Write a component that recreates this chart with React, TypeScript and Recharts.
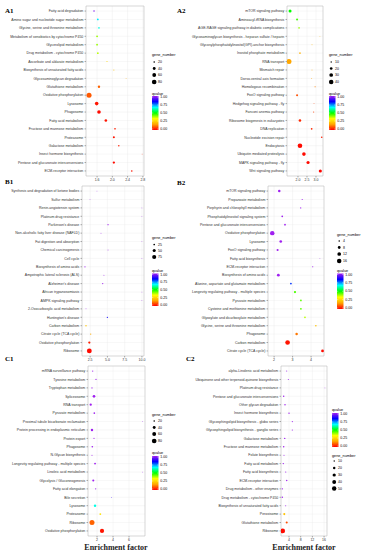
import React from 'react';
import { ScatterChart, Scatter, XAxis, YAxis, CartesianGrid, ReferenceArea } from 'recharts';

// ---------------- DATA ----------------
const A1_categories = [
  'Fatty acid degradation', 'Amino sugar and nucleotide sugar metabolism', 'Glycine, serine and threonine metabolism',
  'Metabolism of xenobiotics by cytochrome P450', 'Glycerolipid metabolism', 'Drug metabolism - cytochrome P450',
  'Ascorbate and aldarate metabolism', 'Biosynthesis of unsaturated fatty acids', 'Glycosaminoglycan degradation',
  'Glutathione metabolism', 'Oxidative phosphorylation', 'Lysosome', 'Phagosome', 'Fatty acid metabolism',
  'Fructose and mannose metabolism', 'Proteasome', 'Galactose metabolism', 'Insect hormone biosynthesis',
  'Pentose and glucuronate interconversions', 'ECM-receptor interaction',
];
const A1_enrichment = [1.52, 1.62, 1.65, 1.6, 1.6, 1.62, 1.86, 2.04, 2.36, 1.65, 1.39, 1.59, 1.65, 1.83, 2.07, 2.04, 2.17, 2.78, 2.04, 2.51];
const A1_genes = [18, 23, 20, 23, 23, 22, 13, 13, 11, 32, 90, 55, 55, 36, 20, 26, 18, 10, 30, 20];
const A1_qvalue = [0.97, 0.68, 0.65, 0.4, 0.4, 0.38, 0.26, 0.22, 0.18, 0.1, 0.09, 0.02, 0.01, 0.02, 0.03, 0.02, 0.03, 0.04, 0.01, 0.02];
const A1_xTicks = [1.6, 2.0, 2.4, 2.8];
const A1_geneLegend = [20, 40, 60, 80];

const A2_categories = [
  'mTOR signaling pathway', 'Aminoacyl-tRNA biosynthesis', 'AGE-RAGE signaling pathway in diabetic complications',
  'Glycosaminoglycan biosynthesis - heparan sulfate / heparin', 'Glycosylphosphatidylinositol(GPI)-anchor biosynthesis',
  'Inositol phosphate metabolism', 'RNA transport', 'Mismatch repair', 'Dorso-ventral axis formation',
  'Homologous recombination', 'FoxO signaling pathway', 'Hedgehog signaling pathway - fly', 'Fanconi anemia pathway',
  'Ribosome biogenesis in eukaryotes', 'DNA replication', 'Nucleotide excision repair', 'Endocytosis',
  'Ubiquitin mediated proteolysis', 'MAPK signaling pathway - fly', 'Wnt signaling pathway',
];
const A2_enrichment = [1.56, 1.95, 2.06, 3.22, 2.78, 2.11, 1.5, 2.78, 2.76, 2.95, 1.95, 2.89, 2.87, 2.11, 2.76, 3.32, 2.11, 2.33, 2.56, 3.24];
const A2_genes = [23, 14, 11, 6, 7, 11, 46, 7, 7, 8, 14, 7, 8, 19, 12, 11, 41, 29, 24, 24];
const A2_qvalue = [0.5, 0.46, 0.4, 0.2, 0.2, 0.19, 0.17, 0.17, 0.16, 0.13, 0.08, 0.06, 0.06, 0.04, 0.04, 0.03, 0.01, 0.01, 0.01, 0.005];
const A2_xTicks = [2.0, 2.5, 3.0];
const A2_geneLegend = [10, 20, 30, 40];

const B1_categories = [
  'Synthesis and degradation of ketone bodies', 'Sulfur metabolism', 'Renin-angiotensin system',
  'Platinum drug resistance', "Parkinson's disease", 'Non-alcoholic fatty liver disease (NAFLD)',
  'Fat digestion and absorption', 'Chemical carcinogenesis', 'Cell cycle', 'Biosynthesis of amino acids',
  'Amyotrophic lateral sclerosis (ALS)', "Alzheimer's disease", 'African trypanosomiasis', 'AMPK signaling pathway',
  '2-Oxocarboxylic acid metabolism', "Huntington's disease", 'Carbon metabolism', 'Citrate cycle (TCA cycle)',
  'Oxidative phosphorylation', 'Ribosome',
];
const B1_enrichment = [3.49, 2.48, 10.0, 10.0, 5.09, 4.07, 10.0, 5.09, 10.0, 1.75, 4.5, 4.32, 10.0, 10.0, 1.9, 4.99, 1.9, 2.58, 2.38, 2.38];
const B1_genes = [12, 12, 12, 12, 18, 15, 12, 15, 12, 18, 15, 18, 12, 12, 15, 18, 20, 19, 33, 95];
const B1_qvalue = [1, 1, 1, 1, 1, 1, 1, 1, 1, 1, 1, 1, 1, 1, 1, 0.85, 0.22, 0.18, 0.03, 0.01];
const B1_xTicks = [2.5, 5.0, 7.5, 10.0];
const B1_geneLegend = [25, 50, 75];

const B2_categories = [
  'mTOR signaling pathway', 'Propanoate metabolism', 'Porphyrin and chlorophyll metabolism',
  'Phosphatidylinositol signaling system', 'Pentose and glucuronate interconversions', 'Oxidative phosphorylation',
  'Lysosome', 'FoxO signaling pathway', 'Fatty acid biosynthesis', 'ECM-receptor interaction',
  'Biosynthesis of amino acids', 'Alanine, aspartate and glutamate metabolism',
  'Longevity regulating pathway - multiple species', 'Pyruvate metabolism', 'Cysteine and methionine metabolism',
  'Glyoxylate and dicarboxylate metabolism', 'Glycine, serine and threonine metabolism', 'Phagosome',
  'Carbon metabolism', 'Citrate cycle (TCA cycle)',
];
const B2_enrichment = [2.28, 3.52, 3.44, 2.44, 2.59, 1.9, 2.36, 2.19, 4.48, 4.09, 2.23, 2.91, 3.13, 3.45, 3.45, 3.67, 4.26, 3.22, 2.73, 4.62];
const B2_genes = [7, 3, 3, 4.5, 4.5, 16, 7.5, 5.5, 2, 3, 8, 4.5, 6, 4.5, 4.5, 4.5, 4, 7, 17, 8];
const B2_qvalue = [1, 1, 1, 1, 1, 1, 1, 1, 1, 1, 1, 0.8, 0.45, 0.44, 0.44, 0.38, 0.22, 0.12, 0.02, 0.01];
const B2_xTicks = [2, 3, 4];
const B2_geneLegend = [4, 8, 12, 16];

const C1_categories = [
  'mRNA surveillance pathway', 'Tyrosine metabolism', 'Tryptophan metabolism', 'Spliceosome', 'RNA transport',
  'Pyruvate metabolism', 'Proximal tubule bicarbonate reclamation', 'Protein processing in endoplasmic reticulum',
  'Protein export', 'Phagosome', 'N-Glycan biosynthesis', 'Longevity regulating pathway - multiple species',
  'Linoleic acid metabolism', 'Glycolysis / Gluconeogenesis', 'Fatty acid elongation', 'Bile secretion',
  'Lysosome', 'Proteasome', 'Ribosome', 'Oxidative phosphorylation',
];
const C1_enrichment = [1.46, 1.87, 1.37, 1.62, 1.21, 1.66, 7.7, 1.37, 1.62, 1.41, 1.37, 1.75, 7.7, 1.53, 1.83, 3.83, 1.75, 2.41, 1.37, 2.62];
const C1_genes = [15, 15, 15, 36, 30, 20, 10, 32, 13, 20, 13, 23, 10, 26, 15, 11, 32, 23, 88, 68];
const C1_qvalue = [1, 1, 1, 1, 1, 1, 1, 1, 1, 1, 1, 1, 1, 1, 1, 0.9, 0.65, 0.28, 0.1, 0.02];
const C1_xTicks = [2, 4, 6];
const C1_geneLegend = [20, 40, 60, 80];

const C2_categories = [
  'alpha-Linolenic acid metabolism', 'Ubiquinone and other terpenoid-quinone biosynthesis', 'Platinum drug resistance',
  'Pentose and glucuronate interconversions', 'Other glycan degradation', 'Insect hormone biosynthesis',
  'Glycosphingolipid biosynthesis - globo series', 'Glycosphingolipid biosynthesis - ganglio series',
  'Galactose metabolism', 'Fructose and mannose metabolism', 'Folate biosynthesis', 'Fatty acid metabolism',
  'Fatty acid biosynthesis', 'ECM-receptor interaction', 'Drug metabolism - other enzymes',
  'Drug metabolism - cytochrome P450', 'Biosynthesis of unsaturated fatty acids', 'Peroxisome',
  'Glutathione metabolism', 'Ribosome',
];
const C2_enrichment = [3.22, 3.77, 16.3, 2.19, 2.64, 4.01, 5.14, 5.14, 2.54, 2.19, 2.3, 2.06, 2.88, 3.22, 1.72, 1.72, 2.88, 2.4, 3.22, 1.85];
const C2_genes = [7, 7, 5, 10, 10, 10, 8, 8, 10, 10, 7, 10, 8, 10, 10, 10, 7, 16, 16, 55];
const C2_qvalue = [1, 1, 1, 1, 1, 1, 1, 1, 1, 1, 1, 1, 1, 1, 1, 1, 1, 0.22, 0.08, 0.01];
const C2_xTicks = [4, 8, 12, 16];
const C2_geneLegend = [10, 20, 30, 40, 50];

const qLegendTicks = [1.0, 0.75, 0.5, 0.25, 0.0];
const Q_COLORS = ['#FF0000', '#FFA500', '#FFFF00', '#00FF00', '#00FFFF', '#0000FF', '#A020F0'];

// ---------------- HELPERS ----------------
const SANS = '"Liberation Sans", Arial, sans-serif';
const SERIF = '"Liberation Serif", "Times New Roman", serif';

function hexRgb(h: string) {
  return [parseInt(h.slice(1, 3), 16), parseInt(h.slice(3, 5), 16), parseInt(h.slice(5, 7), 16)];
}
function qColor(q: number) {
  const t = Math.max(0, Math.min(1, q)) * (Q_COLORS.length - 1);
  const i = Math.min(Math.floor(t), Q_COLORS.length - 2);
  const f = t - i;
  const a = hexRgb(Q_COLORS[i]);
  const b = hexRgb(Q_COLORS[i + 1]);
  const c = a.map((v, k) => Math.round(v + (b[k] - v) * f));
  return `rgb(${c[0]},${c[1]},${c[2]})`;
}
function radius(g: number, range: [number, number]) {
  const s0 = Math.sqrt(range[0]);
  const s1 = Math.sqrt(range[1]);
  const r = 0.35 + 2.15 * (Math.sqrt(g) - s0) / (s1 - s0);
  return Math.max(0.35, Math.min(2.7, r));
}

type Cfg = {
  label: string; labelX: number; labelY: number;
  cats: string[]; ef: number[]; genes: number[]; q: number[];
  l: number; t: number; r: number; b: number; chartLeft: number;
  xDomain: [number, number]; xTicks: number[]; digits: number;
  gRange: [number, number]; geneLegend: number[];
  lx: number; geneTitle: number; geneYs: number[]; qTitle: number; q1: number; q0: number;
};

const panels: Cfg[] = [
  {
    label: 'A1', labelX: 5, labelY: 13, cats: A1_categories, ef: A1_enrichment, genes: A1_genes, q: A1_qvalue,
    l: 86, t: 6, r: 144, b: 176, chartLeft: 0, xDomain: [1.31, 2.83], xTicks: A1_xTicks, digits: 1,
    gRange: [10, 90], geneLegend: A1_geneLegend,
    lx: 152, geneTitle: 55.5, geneYs: [62, 68.5, 75, 82], qTitle: 94.5, q1: 97, q0: 129,
  },
  {
    label: 'A2', labelX: 177, labelY: 13, cats: A2_categories, ef: A2_enrichment, genes: A2_genes, q: A2_qvalue,
    l: 287, t: 6, r: 323, b: 176, chartLeft: 178, xDomain: [1.39, 3.39], xTicks: A2_xTicks, digits: 1,
    gRange: [6, 46], geneLegend: A2_geneLegend,
    lx: 329, geneTitle: 55.5, geneYs: [62, 68.5, 75, 82], qTitle: 94.5, q1: 97, q0: 129,
  },
  {
    label: 'B1', labelX: 5, labelY: 184, cats: B1_categories, ef: B1_enrichment, genes: B1_genes, q: B1_qvalue,
    l: 82, t: 186, r: 144, b: 356, chartLeft: 0, xDomain: [1.32, 10.3], xTicks: B1_xTicks, digits: 1,
    gRange: [12, 100], geneLegend: B1_geneLegend,
    lx: 152, geneTitle: 239, geneYs: [244.5, 250.5, 257], qTitle: 271.5, q1: 274.5, q0: 305,
  },
  {
    label: 'B2', labelX: 177, labelY: 185, cats: B2_categories, ef: B2_enrichment, genes: B2_genes, q: B2_qvalue,
    l: 268, t: 186, r: 324, b: 356, chartLeft: 178, xDomain: [1.67, 4.7], xTicks: B2_xTicks, digits: 0,
    gRange: [2, 19], geneLegend: B2_geneLegend,
    lx: 337, geneTitle: 236, geneYs: [241, 247.5, 254, 261], qTitle: 271.5, q1: 274.5, q0: 308,
  },
  {
    label: 'C1', labelX: 5, labelY: 361, cats: C1_categories, ef: C1_enrichment, genes: C1_genes, q: C1_qvalue,
    l: 88, t: 366, r: 145, b: 536, chartLeft: 0, xDomain: [0.87, 8.0], xTicks: C1_xTicks, digits: 0,
    gRange: [10, 88], geneLegend: C1_geneLegend,
    lx: 152, geneTitle: 415.5, geneYs: [421, 427.5, 434, 441], qTitle: 453.5, q1: 457, q0: 489,
  },
  {
    label: 'C2', labelX: 186, labelY: 361, cats: C2_categories, ef: C2_enrichment, genes: C2_genes, q: C2_qvalue,
    l: 281, t: 366, r: 327, b: 536, chartLeft: 178, xDomain: [1.27, 17], xTicks: C2_xTicks, digits: 0,
    gRange: [5, 60], geneLegend: C2_geneLegend,
    lx: 332, geneTitle: 456.5, geneYs: [461, 468, 475, 482, 488.5], qTitle: 410.5, q1: 414, q0: 446,
  },
];

function Panel({ cfg }: { cfg: Cfg }) {
  const rows = cfg.cats.map((name, i) => ({ name, y: i + 1, x: cfg.ef[i], gene: cfg.genes[i], q: cfg.q[i] }));
  const yTicks = cfg.cats.map((_, i) => i + 1);
  const n = cfg.cats.length;
  const width = cfg.r + 3 - cfg.chartLeft;
  const height = cfg.b - cfg.t + 2 + 12;
  const shape = (p: any) => {
    const d = p.payload ?? p;
    return <circle cx={p.cx} cy={p.cy} r={radius(d.gene, cfg.gRange)} fill={qColor(d.q)} />;
  };
  const YTick = (p: any) => {
    const label = cfg.cats[Math.round(p.payload.value) - 1] ?? '';
    return (
      <text x={p.x} y={p.y} dy="0.35em" textAnchor="end" fontSize={3.5} fill="#333" fontFamily={SANS}>{label}</text>
    );
  };
  const XTick = (p: any) => (
    <text x={p.x} y={p.y} dy="0.75em" textAnchor="middle" fontSize={3.5} fill="#333" fontFamily={SANS}>
      {Number(p.payload.value).toFixed(cfg.digits)}
    </text>
  );
  return (
    <div style={{ position: 'absolute', left: cfg.chartLeft, top: cfg.t - 2 }}>
      <ScatterChart width={width} height={height} margin={{ top: 2, right: 3, bottom: 0, left: 0 }}>
        <CartesianGrid stroke="#EBEBEB" strokeWidth={0.4} />
        <XAxis
          type="number" dataKey="x" domain={cfg.xDomain} ticks={cfg.xTicks} allowDataOverflow interval={0}
          height={12} tick={XTick} tickSize={1.5} tickMargin={1}
          axisLine={false} tickLine={{ stroke: '#333', strokeWidth: 0.4 }}
        />
        <YAxis
          type="number" dataKey="y" domain={[0.4, n + 0.6]} reversed ticks={yTicks} allowDataOverflow interval={0}
          width={cfg.l - cfg.chartLeft} tick={YTick} tickSize={1.5} tickMargin={1.2}
          axisLine={false} tickLine={{ stroke: '#333', strokeWidth: 0.4 }}
        />
        <Scatter data={rows} isAnimationActive={false} shape={shape} />
        <ReferenceArea x1={cfg.xDomain[0]} x2={cfg.xDomain[1]} y1={0.4} y2={n + 0.6} fill="none" fillOpacity={0} stroke="#B8B8B8" strokeWidth={0.5} />
      </ScatterChart>
    </div>
  );
}

function Legend({ cfg }: { cfg: Cfg }) {
  const barTop = cfg.q1 - 1;
  const barBot = cfg.q0 + 1;
  const bw = 6.5;
  return (
    <g fontFamily={SANS}>
      <text x={cfg.labelX} y={cfg.labelY} fontFamily={SERIF} fontWeight="bold" fontSize={7} fill="#000">{cfg.label}</text>
      <text x={cfg.lx} y={cfg.geneTitle} fontSize={3.8} fill="#000">gene_number</text>
      {cfg.geneLegend.map((g, i) => (
        <g key={g}>
          <circle cx={cfg.lx + 2.2} cy={cfg.geneYs[i]} r={radius(g, cfg.gRange)} fill="#000" />
          <text x={cfg.lx + 6} y={cfg.geneYs[i]} dy="0.35em" fontSize={3.5} fill="#000">{g}</text>
        </g>
      ))}
      <text x={cfg.lx} y={cfg.qTitle} fontSize={3.8} fill="#000">qvalue</text>
      <rect x={cfg.lx} y={barTop} width={bw} height={barBot - barTop} fill="url(#qgrad)" />
      {qLegendTicks.map((v) => {
        const y = cfg.q0 + (cfg.q1 - cfg.q0) * v;
        return (
          <g key={v}>
            <line x1={cfg.lx} x2={cfg.lx + 1.3} y1={y} y2={y} stroke="#fff" strokeWidth={0.4} />
            <line x1={cfg.lx + bw - 1.3} x2={cfg.lx + bw} y1={y} y2={y} stroke="#fff" strokeWidth={0.4} />
            <text x={cfg.lx + bw + 1.8} y={y} dy="0.35em" fontSize={3.5} fill="#000">{v.toFixed(2)}</text>
          </g>
        );
      })}
    </g>
  );
}

export default function App() {
  return (
    <div style={{ position: 'absolute', left: 0, top: 0, width: 369, height: 550, background: '#fff', overflow: 'hidden' }}>
      {panels.map((p) => <Panel key={p.label} cfg={p} />)}
      <svg width={369} height={550} style={{ position: 'absolute', left: 0, top: 0, pointerEvents: 'none' }}>
        <defs>
          <linearGradient id="qgrad" x1="0" y1="0" x2="0" y2="1">
            {Q_COLORS.map((c, i) => (
              <stop key={i} offset={1 - i / (Q_COLORS.length - 1)} stopColor={c} />
            )).reverse()}
          </linearGradient>
        </defs>
        {panels.map((p) => <Legend key={p.label} cfg={p} />)}
        <text x={116} y={549.5} textAnchor="middle" fontFamily={SERIF} fontWeight="bold" fontSize={8} fill="#222">Enrichment factor</text>
        <text x={304} y={549.5} textAnchor="middle" fontFamily={SERIF} fontWeight="bold" fontSize={8} fill="#222">Enrichment factor</text>
      </svg>
    </div>
  );
}
